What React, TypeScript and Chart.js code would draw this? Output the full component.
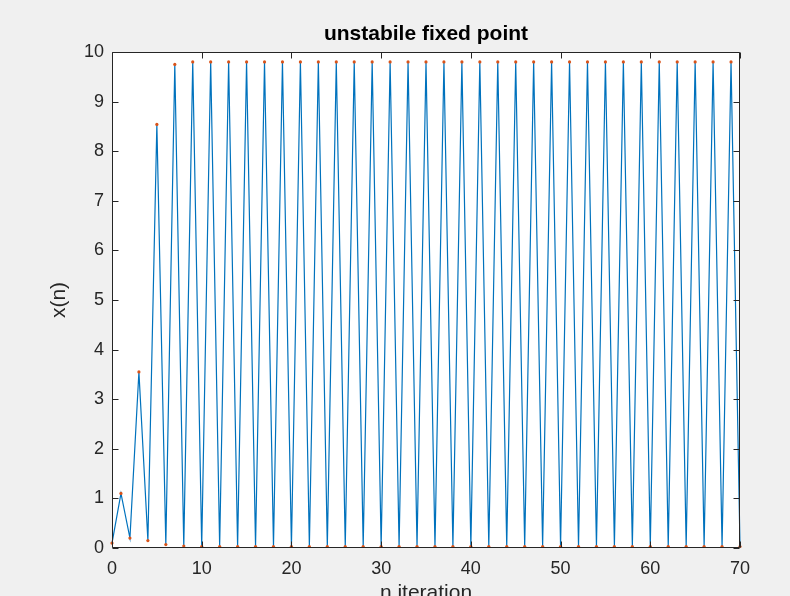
import React, { useEffect, useRef } from "react";
import { Chart, registerables } from "chart.js";

Chart.register(...registerables);

const iterations: number[] = [
  0, 1, 2, 3, 4, 5, 6, 7, 8, 9, 10, 11, 12, 13, 14, 15, 16, 17, 18, 19, 20,
  21, 22, 23, 24, 25, 26, 27, 28, 29, 30, 31, 32, 33, 34, 35, 36, 37, 38, 39,
  40, 41, 42, 43, 44, 45, 46, 47, 48, 49, 50, 51, 52, 53, 54, 55, 56, 57, 58,
  59, 60, 61, 62, 63, 64, 65, 66, 67, 68, 69, 70,
];

const xValues: number[] = [
  0.1, 1.1, 0.2, 3.55, 0.15, 8.54, 0.07, 9.75, 0.04, 9.8,
  0.03, 9.8, 0.03, 9.8, 0.03, 9.8, 0.03, 9.8, 0.03, 9.8,
  0.03, 9.8, 0.03, 9.8, 0.03, 9.8, 0.03, 9.8, 0.03, 9.8,
  0.03, 9.8, 0.03, 9.8, 0.03, 9.8, 0.03, 9.8, 0.03, 9.8,
  0.03, 9.8, 0.03, 9.8, 0.03, 9.8, 0.03, 9.8, 0.03, 9.8,
  0.03, 9.8, 0.03, 9.8, 0.03, 9.8, 0.03, 9.8, 0.03, 9.8,
  0.03, 9.8, 0.03, 9.8, 0.03, 9.8, 0.03, 9.8, 0.03, 9.8,
  0.03,
];

const titleText = "unstabile fixed point";
const xLabel = "n iteration";
const yLabel = "x(n)";

const AXIS_COLOR = "#262626";
const FONT = "'Liberation Sans', Arial, Helvetica, sans-serif";

const boxPlugin = {
  id: "matlabBox",
  beforeDraw(chart: any) {
    const { ctx, chartArea } = chart;
    ctx.save();
    ctx.fillStyle = "#f0f0f0";
    ctx.fillRect(0, 0, chart.width, chart.height);
    ctx.fillStyle = "#ffffff";
    ctx.fillRect(
      chartArea.left,
      chartArea.top,
      chartArea.right - chartArea.left,
      chartArea.bottom - chartArea.top
    );
    ctx.restore();
  },
  afterDatasetsDraw(chart: any) {
    const { ctx, chartArea } = chart;
    const { left, right, top, bottom } = chartArea;
    const xs = chart.scales.x;
    const ys = chart.scales.y;
    const tl = 6;
    ctx.save();
    ctx.strokeStyle = AXIS_COLOR;
    ctx.lineWidth = 1;
    ctx.beginPath();
    const L = Math.round(left) + 0.5;
    const R = Math.round(right) - 0.5;
    const T = Math.round(top) + 0.5;
    const B = Math.round(bottom) - 0.5;
    ctx.rect(L, T, R - L, B - T);
    xs.ticks.forEach((t: any) => {
      const px = Math.round(xs.getPixelForValue(t.value)) + 0.5;
      ctx.moveTo(px, B);
      ctx.lineTo(px, B - tl);
      ctx.moveTo(px, T);
      ctx.lineTo(px, T + tl);
    });
    ys.ticks.forEach((t: any) => {
      const py = Math.round(ys.getPixelForValue(t.value)) + 0.5;
      ctx.moveTo(L, py);
      ctx.lineTo(L + tl, py);
      ctx.moveTo(R, py);
      ctx.lineTo(R - tl, py);
    });
    ctx.stroke();
    ctx.restore();
  },
};

export default function App() {
  const canvasRef = useRef<HTMLCanvasElement | null>(null);

  useEffect(() => {
    if (!canvasRef.current) return;
    const chart = new Chart(canvasRef.current, {
      type: "line",
      data: {
        datasets: [
          {
            data: iterations.map((n, i) => ({ x: n, y: xValues[i] })),
            borderColor: "#0072BD",
            borderWidth: 1.2,
            pointRadius: 1.6,
            pointBackgroundColor: "#D95319",
            pointBorderWidth: 0,
            tension: 0,
            clip: false as any,
          },
        ],
      },
      options: {
        animation: false,
        responsive: false,
        maintainAspectRatio: false,
        layout: { padding: { left: 0, right: 50, top: 0, bottom: 0 } },
        plugins: {
          legend: { display: false },
          tooltip: { enabled: false },
          title: {
            display: true,
            fullSize: false,
            text: titleText,
            color: "#000000",
            font: { family: FONT, size: 21, weight: "bold" },
            padding: { top: 22, bottom: 4.8 },
          },
        },
        scales: {
          x: {
            type: "linear",
            min: 0,
            max: 70,
            grid: { display: false, drawTicks: false },
            border: { display: false },
            ticks: {
              stepSize: 10,
              color: AXIS_COLOR,
              font: { family: FONT, size: 18 },
              padding: 10,
              maxRotation: 0,
            },
            title: {
              display: true,
              text: xLabel,
              color: AXIS_COLOR,
              font: { family: FONT, size: 21 },
              padding: { top: 0, bottom: -10 },
            },
            afterFit: (scale: any) => {
              scale.height = 48;
            },
          },
          y: {
            type: "linear",
            min: 0,
            max: 10,
            grid: { display: false, drawTicks: false },
            border: { display: false },
            ticks: {
              stepSize: 1,
              color: AXIS_COLOR,
              font: { family: FONT, size: 18 },
              padding: 8,
            },
            title: {
              display: true,
              text: yLabel,
              color: AXIS_COLOR,
              font: { family: FONT, size: 21 },
              padding: { top: 47, bottom: 0 },
            },
            afterFit: (scale: any) => {
              scale.width = 112;
            },
          },
        },
      },
      plugins: [boxPlugin],
    });
    return () => chart.destroy();
  }, []);

  return (
    <div
      style={{
        position: "fixed",
        left: 0,
        top: 0,
        width: 790,
        height: 596,
        background: "#f0f0f0",
        overflow: "hidden",
      }}
    >
      <canvas ref={canvasRef} width={790} height={596} style={{ display: "block" }} />
    </div>
  );
}
